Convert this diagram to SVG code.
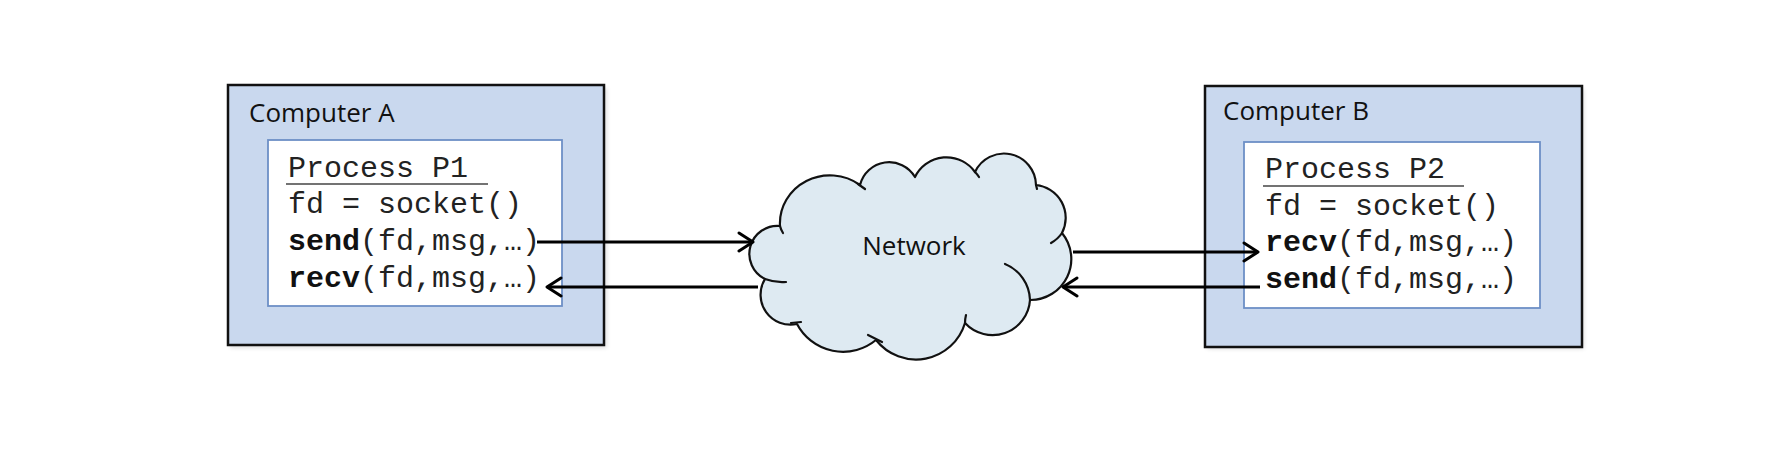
<svg xmlns="http://www.w3.org/2000/svg" width="1780" height="464" viewBox="0 0 1780 464">
  <style>
    .outer { fill: #C9D8EE; stroke: #111111; stroke-width: 2.5; }
    .inner { fill: #FFFFFF; stroke: #6D8FC6; stroke-width: 1.8; }
    .shadow { fill: #000000; opacity: 0.12; }
    .title { font-family: "Open Sans", "Noto Sans", sans-serif; font-size: 26px; fill: #111111; }
    .code { font-family: "Liberation Mono", "Courier New", monospace; font-size: 30px; fill: #222222; }
    .code .b { font-weight: bold; fill: #111111; }
    .uline { stroke: #444444; stroke-width: 1.6; }
    .cloud { fill: #DEEAF2; stroke: #111111; stroke-width: 2.2; stroke-linejoin: round; }
    .stub { fill: none; stroke: #111111; stroke-width: 2.2; stroke-linecap: round; }
    .conn { fill: none; stroke: #000000; stroke-width: 3; }
  </style>
  <defs>
    <filter id="blur" x="-10%" y="-10%" width="120%" height="120%">
      <feGaussianBlur stdDeviation="2"/>
    </filter>
    <marker id="arrow" markerUnits="userSpaceOnUse" markerWidth="22" markerHeight="22" viewBox="0 0 22 22" refX="19" refY="11" orient="auto">
      <path d="M5,2 L19,11 L5,20" fill="none" stroke="#000000" stroke-width="3" stroke-linecap="round" stroke-linejoin="round"/>
    </marker>
  </defs>

  <rect width="1780" height="464" fill="#FFFFFF"/>

  <g id="computer-a">
    <rect class="shadow" x="230" y="88" width="377" height="260" filter="url(#blur)"/>
    <rect class="outer" x="228" y="85" width="376" height="260"/>
    <text class="title" x="249" y="122">Computer A</text>
    <g id="process-p1">
      <rect class="inner" x="268" y="140" width="294" height="166"/>
      <text class="code" x="288" y="177">Process P1</text>
      <line class="uline" x1="286" y1="184" x2="488" y2="184"/>
      <text class="code" x="288" y="213">fd = socket()</text>
      <text class="code" x="288" y="250"><tspan class="b">send</tspan>(fd,msg,…)</text>
      <text class="code" x="288" y="287"><tspan class="b">recv</tspan>(fd,msg,…)</text>
    </g>
  </g>

  <g id="computer-b">
    <rect class="shadow" x="1207" y="89" width="377" height="260" filter="url(#blur)"/>
    <rect class="outer" x="1205" y="86" width="377" height="261"/>
    <text class="title" x="1223" y="120">Computer B</text>
    <g id="process-p2">
      <rect class="inner" x="1244" y="142" width="296" height="166"/>
      <text class="code" x="1265" y="178">Process P2</text>
      <line class="uline" x1="1263" y1="186" x2="1464" y2="186"/>
      <text class="code" x="1265" y="215">fd = socket()</text>
      <text class="code" x="1265" y="251"><tspan class="b">recv</tspan>(fd,msg,…)</text>
      <text class="code" x="1265" y="288"><tspan class="b">send</tspan>(fd,msg,…)</text>
    </g>
  </g>

  <g id="network">
    <path class="cloud" d="M765,279 A28,28 0 0 1 780,226 A50,48 0 0 1 860,185 A30,30 0 0 1 915,177 A35,35 0 0 1 975,172 A32,32 0 0 1 1036,185 A33,33 0 0 1 1062,233 A41,41 0 0 1 1030,300 A37.5,37.5 0 0 1 965,323 A51,51 0 0 1 876,340 A52,52 0 0 1 797,324 A30,30 0 0 1 765,279 Z"/>
    <path class="stub" d="M765,279 Q776,283 786,282"/>
    <path class="stub" d="M791,323 L801,322"/>
    <path class="stub" d="M780,226 Q781,230 783,233"/>
    <path class="stub" d="M858,184 L865,189"/>
    <path class="stub" d="M975,172 Q977,174 979,177"/>
    <path class="stub" d="M1036,185 L1037,189"/>
    <path class="stub" d="M1062,233 Q1058,239 1051,243"/>
    <path class="stub" d="M1005,264 A40,40 0 0 1 1030,300"/>
    <path class="stub" d="M965,323 Q965,319 966,315"/>
    <path class="stub" d="M868,335 Q874,338 882,342"/>
    <text class="title" x="914" y="255" text-anchor="middle">Network</text>
  </g>

  <g id="connectors">
    <path class="conn" d="M537,242 H753" marker-end="url(#arrow)"/>
    <path class="conn" d="M758,287 H547" marker-end="url(#arrow)"/>
    <path class="conn" d="M1073,252 H1258" marker-end="url(#arrow)"/>
    <path class="conn" d="M1260,287 H1063" marker-end="url(#arrow)"/>
  </g>
</svg>
